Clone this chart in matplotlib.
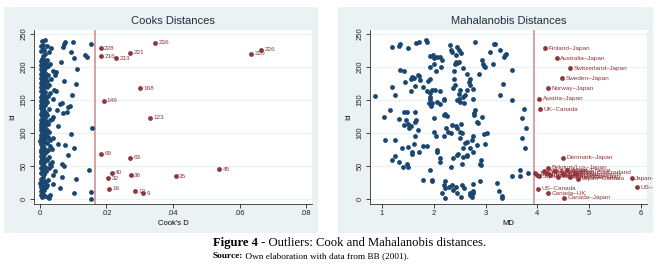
import numpy as np
import matplotlib
matplotlib.use('Agg')
import matplotlib.pyplot as plt
from matplotlib.patches import Rectangle

# Cook's distance by observation id (1..240)
cook_d = [
    0.0152, 0.0028, 0.0005, 0.0025, 0.0015, 0.0003, 0.0030, 0.0008, 0.0311, 0.0102,
    0.0152, 0.0286, 0.0002, 0.0012, 0.0006, 0.0208, 0.0060, 0.0004, 0.0018, 0.0009,
    0.0003, 0.0022, 0.0038, 0.0007, 0.0001, 0.0015, 0.0005, 0.0011, 0.0024, 0.0004,
    0.0108, 0.0206, 0.0009, 0.0065, 0.0408, 0.0273, 0.0038, 0.0013, 0.0002, 0.0216,
    0.0006, 0.0045, 0.0019, 0.0146, 0.0539, 0.0010, 0.0027, 0.0003, 0.0016, 0.0033,
    0.0073, 0.0008, 0.0065, 0.0030, 0.0004, 0.0012, 0.0035, 0.0002, 0.0021, 0.0007,
    0.0014, 0.0005, 0.0270, 0.0026, 0.0009, 0.0003, 0.0085, 0.0011, 0.0183, 0.0006,
    0.0017, 0.0002, 0.0008, 0.0023, 0.0004, 0.0036, 0.0013, 0.0103, 0.0007, 0.0029,
    0.0010, 0.0075, 0.0055, 0.0003, 0.0020, 0.0006, 0.0012, 0.0001, 0.0031, 0.0009,
    0.0015, 0.0004, 0.0040, 0.0025, 0.0007, 0.0011, 0.0002, 0.0018, 0.0093, 0.0005,
    0.0028, 0.0008, 0.0013, 0.0003, 0.0021, 0.0006, 0.0010, 0.0155, 0.0004, 0.0016,
    0.0053, 0.0009, 0.0002, 0.0024, 0.0007, 0.0012, 0.0005, 0.0019, 0.0030, 0.0003,
    0.0035, 0.0011, 0.0330, 0.0014, 0.0040, 0.0006, 0.0022, 0.0009, 0.0002, 0.0017,
    0.0070, 0.0080, 0.0005, 0.0013, 0.0052, 0.0008, 0.0026, 0.0003, 0.0085, 0.0010,
    0.0090, 0.0004, 0.0015, 0.0060, 0.0007, 0.0065, 0.0021, 0.0002, 0.0191, 0.0011,
    0.0006, 0.0040, 0.0018, 0.0003, 0.0009, 0.0024, 0.0096, 0.0005, 0.0013, 0.0029,
    0.0008, 0.0016, 0.0048, 0.0002, 0.0043, 0.0010, 0.0006, 0.0300, 0.0020, 0.0004,
    0.0012, 0.0027, 0.0007, 0.0108, 0.0015, 0.0003, 0.0009, 0.0022, 0.0073, 0.0005,
    0.0034, 0.0011, 0.0002, 0.0018, 0.0007, 0.0013, 0.0025, 0.0045, 0.0004, 0.0009,
    0.0016, 0.0048, 0.0006, 0.0040, 0.0012, 0.0003, 0.0110, 0.0008, 0.0019, 0.0005,
    0.0023, 0.0010, 0.0004, 0.0014, 0.0030, 0.0007, 0.0017, 0.0063, 0.0002, 0.0011,
    0.0021, 0.0006, 0.0228, 0.0102, 0.0142, 0.0184, 0.0009, 0.0135, 0.0015, 0.0634,
    0.0271, 0.0026, 0.0092, 0.0004, 0.0012, 0.0665, 0.0008, 0.0182, 0.0033, 0.0068,
    0.0003, 0.0020, 0.0010, 0.0072, 0.0153, 0.0346, 0.0100, 0.0075, 0.0005, 0.0015,
]
cook_cut = 4 / 240

# Mahalanobis distance, regular observations (md, id)
md_blue = [
    0.87, 1.19, 1.32, 1.35, 1.51, 1.71, 1.66, 1.84, 1.87, 1.20, 1.26, 1.35, 1.42, 1.45,
    1.55, 1.58, 1.62, 1.69, 1.72, 1.74, 1.55, 1.64, 1.15, 1.04, 1.06, 1.26, 1.32, 1.43,
    1.48, 1.42, 1.51, 1.47, 1.53, 1.55, 1.39, 1.51, 1.61, 1.58, 1.58, 1.71, 1.64, 1.65,
    1.64, 1.64, 1.69, 1.19, 1.26, 1.32, 1.41, 1.49, 1.51, 1.79, 1.86, 1.80, 1.96, 1.96,
    1.93, 1.93, 1.98, 2.01, 2.06, 2.12, 2.15, 1.93, 2.01, 2.04, 2.13, 1.92, 1.88, 1.80,
    1.87, 1.92, 1.96, 2.02, 2.12, 1.92, 1.93, 1.91, 1.95, 1.96, 2.06, 2.11, 2.19, 2.19,
    2.01, 2.00, 2.05, 2.19, 2.19, 2.22, 2.25, 2.24, 2.28, 2.33, 2.06, 2.07, 2.12, 2.12,
    2.32, 2.34, 2.36, 2.45, 2.48, 2.52, 2.42, 2.40, 2.42, 2.48, 2.45, 2.57, 2.64, 2.39,
    2.39, 2.38, 2.40, 2.50, 2.48, 2.48, 2.44, 2.51, 2.57, 2.60, 2.58, 2.65, 2.67, 2.69,
    2.70, 2.75, 2.75, 2.78, 2.80, 2.78, 2.83, 2.86, 2.93, 2.96, 3.03, 2.98, 2.84, 2.75,
    2.74, 2.64, 2.60, 2.69, 2.57, 2.51, 2.44, 2.42, 2.52, 2.50, 2.54, 2.36, 2.47, 2.44,
    2.38, 2.57, 2.65, 2.64, 2.75, 2.54, 2.33, 2.90, 2.91, 2.91, 2.22, 2.19, 2.22, 2.15,
    2.22, 2.29, 2.36, 2.38, 2.42, 2.45, 2.52, 2.54, 2.58, 2.69, 2.70, 2.75, 2.76, 2.74,
    2.75, 2.90, 2.80, 3.08, 3.16, 3.19, 3.28, 3.38, 3.40, 3.36, 3.14, 2.93, 2.95, 2.96,
    2.98, 2.88, 3.28, 3.33, 3.50, 3.50, 3.74, 3.70, 3.78, 3.70, 3.77, 3.22, 3.25, 3.31,
    3.31, 3.50, 3.66, 3.67, 3.82,
]
md_blue_id = [
    156, 230, 232, 234, 229, 238, 236, 240, 238, 169, 158, 195, 194, 177,
    181, 184, 183, 187, 186, 180, 164, 171, 135, 125, 89, 90, 121, 132,
    132, 112, 114, 119, 107, 110, 77, 79, 84, 72, 68, 72, 95, 120,
    116, 132, 105, 59, 65, 57, 49, 54, 49, 80, 81, 29, 29, 27,
    44, 217, 218, 213, 215, 215, 210, 200, 204, 193, 200, 182, 178, 170,
    163, 161, 165, 165, 164, 152, 155, 145, 141, 145, 147, 144, 150, 152,
    122, 102, 95, 95, 127, 129, 126, 107, 102, 100, 74, 72, 62, 57,
    233, 226, 223, 230, 226, 221, 218, 205, 208, 208, 206, 198, 189, 194,
    181, 168, 173, 165, 159, 152, 150, 147, 155, 157, 145, 165, 177, 173,
    182, 167, 151, 131, 135, 127, 116, 115, 124, 99, 100, 84, 82, 95,
    90, 87, 85, 77, 77, 92, 107, 111, 114, 102, 100, 112, 69, 67,
    63, 64, 67, 65, 72, 54, 49, 54, 52, 60, 27, 22, 17, 10,
    2, 19, 22, 14, 18, 10, 4, 22, 17, 7, 10, 9, 12, 4,
    23, 27, 238, 223, 235, 235, 226, 218, 220, 215, 205, 211, 205, 201,
    199, 189, 158, 174, 195, 150, 137, 122, 107, 92, 77, 24, 12, 5,
    2, 35, 44, 35, 40,
]

# Mahalanobis outliers (md, id, country pair)
md_out = [4.14, 4.37, 4.63, 4.47, 4.21, 4.04, 4.05, 4.50, 4.21,
          3.96, 4.00, 4.04, 4.12, 4.18, 4.25, 4.34, 4.40, 4.50, 4.57, 4.63, 4.72, 4.79,
          5.82, 5.93, 4.02, 4.21, 4.52]
md_out_id = [228, 213, 198, 183, 168, 152, 136, 63, 48,
             39, 37, 35, 43, 40, 36, 42, 34, 38, 44, 33, 40, 31,
             32, 18, 16, 9, 2]
md_out_lab = ["Finland–Japan", "Australia–Japan", "Switzerland–Japan", "Sweden–Japan",
              "Norway–Japan", "Austria–Japan", "UK–Canada", "Denmark–Japan",
              "Belgium/Lux–Japan",
              "Japan–Sweden", "Japan–Norway", "Japan–Austria", "Japan–Finland",
              "Japan–Australia", "Japan–Denmark", "Japan–UK", "Japan–Belgium/Lux",
              "Japan–Netherlands", "Japan–France", "Japan–Germany", "Japan–Switzerland",
              "Japan–Canada", "Japan–US", "US–Japan", "US–Canada", "Canada–UK",
              "Canada–Japan"]
md_cut = 3.93

BLUE = '#1a476f'
RED = '#90353b'
BG = '#eaf2f3'
LINE = '#d39a9a'

W, H = 659, 268
fig = plt.figure(figsize=(W / 100, H / 100), dpi=100)
fig.patch.set_facecolor('white')
plt.rcParams['font.family'] = ['Liberation Sans', 'DejaVu Sans']


def px_rect(x0, y0, x1, y1):
    return [x0 / W, 1 - y1 / H, (x1 - x0) / W, (y1 - y0) / H]


def panel(bg_box, ax_box, title):
    r = px_rect(*bg_box)
    bg = Rectangle((r[0], r[1]), r[2], r[3], transform=fig.transFigure,
                   facecolor=BG, edgecolor='none', zorder=-5)
    fig.patches.append(bg)
    ax = fig.add_axes(px_rect(*ax_box))
    ax.set_facecolor('white')
    for s in ['top', 'right']:
        ax.spines[s].set_visible(False)
    for s in ['left', 'bottom']:
        ax.spines[s].set_color('#333333')
        ax.spines[s].set_linewidth(0.6)
    ax.tick_params(direction='out', length=3, width=0.6, labelsize=5.5,
                   colors='#222222', pad=1.5)
    ax.set_ylim(-7.1, 255.6)
    ax.set_yticks([0, 50, 100, 150, 200, 250])
    for lab in ax.get_yticklabels():
        lab.set_rotation(90)
        lab.set_va('center')
    ax.grid(axis='y', color=BG, linewidth=0.9)
    ax.set_axisbelow(True)
    ax.set_ylabel('Id', fontsize=5.5, labelpad=3)
    ax.set_title(title, fontsize=8, color='#1e2e3e', pad=4)
    return ax, bg


# Cook's distances
ax1, bg1 = panel((4, 7, 318, 233), (34, 30, 312, 204), 'Cooks Distances')
cook = np.array(cook_d)
ids = np.arange(1, len(cook) + 1)
out = cook > cook_cut
ax1.axvline(cook_cut, color=LINE, linewidth=1.3, zorder=1)
ax1.scatter(cook[~out], ids[~out], s=12, color=BLUE, linewidths=0, zorder=3)
ax1.scatter(cook[out], ids[out], s=12, color=RED, linewidths=0, zorder=3)
for x, i in zip(cook[out], ids[out]):
    ax1.annotate(str(i), (x, i), xytext=(2.5, 0), textcoords='offset points',
                 fontsize=4.6, color=RED, va='center', ha='left')
ax1.set_xlim(-0.0018, 0.0818)
ax1.set_xticks([0, 0.02, 0.04, 0.06, 0.08])
ax1.set_xticklabels(['0', '.02', '.04', '.06', '.08'])
ax1.set_xlabel("Cook's D", fontsize=5.5, labelpad=2)

# Mahalanobis distances
ax2, bg2 = panel((338, 7, 653, 233), (370, 30, 647, 204), 'Mahalanobis Distances')
ax2.axvline(md_cut, color=LINE, linewidth=1.3, zorder=1)
ax2.scatter(md_blue, md_blue_id, s=12, color=BLUE, linewidths=0, zorder=3)
ax2.scatter(md_out, md_out_id, s=12, color=RED, linewidths=0, zorder=3)
for x, i, lab in zip(md_out, md_out_id, md_out_lab):
    t = ax2.annotate(lab, (x, i), xytext=(2.5, 0), textcoords='offset points',
                     fontsize=4.6, color=RED, va='center', ha='left',
                     annotation_clip=False)
    t.set_clip_path(bg2)
ax2.set_xlim(0.768, 6.116)
ax2.set_xticks([1, 2, 3, 4, 5, 6])
ax2.set_xlabel('MD', fontsize=5.5, labelpad=2)

# caption
renderer = fig.canvas.get_renderer()
t1 = fig.text(213 / W, 1 - 243 / H, 'Figure 4', fontsize=9.1, fontweight='bold',
              family='Liberation Serif', va='center', ha='left')
bb = t1.get_window_extent(renderer)
fig.text(bb.x1 / W, 1 - 243 / H, ' - Outliers: Cook and Mahalanobis distances.',
         fontsize=9.1, family='Liberation Serif', va='center', ha='left')
t2 = fig.text(213 / W, 1 - 256 / H, 'Source:', fontsize=6.7, fontweight='bold',
              family='Liberation Serif', va='center', ha='left')
bb = t2.get_window_extent(renderer)
fig.text(bb.x1 / W, 1 - 256 / H, ' Own elaboration with data from BB (2001).',
         fontsize=6.7, family='Liberation Serif', va='center', ha='left')

fig.savefig('out.png', dpi=100)
